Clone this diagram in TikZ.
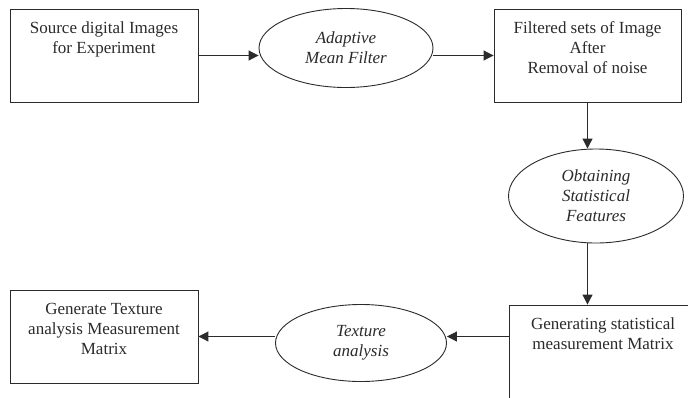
\documentclass[tikz,border=0pt]{standalone}
\usepackage{fontspec}
\setmainfont{Liberation Serif}
\usetikzlibrary{shapes.geometric,arrows.meta}
\definecolor{ink}{HTML}{2B2B2B}
\newcommand{\boxtext}[2]{\parbox[c][93pt][t]{#1}{\centering\rule{0pt}{24pt}#2}}
\tikzset{
  stage/.style={draw=ink, line width=0.9pt, inner sep=0pt, fill=white,
    text=ink, font=\fontsize{17}{20}\selectfont},
  oval/.style={draw=ink, line width=0.9pt, ellipse, inner sep=0pt, fill=white,
    text=ink, align=center, font=\fontsize{17}{20}\selectfont\itshape},
  flow/.style={draw=ink, line width=1pt, -{Triangle[length=10pt,width=10pt]}}
}
\begin{document}
\begin{tikzpicture}[x=1pt,y=-1pt]
\useasboundingbox (0,0) rectangle (688,397);
\clip (0,0) rectangle (688,397);
\fill[white] (0,0) rectangle (688,397);

% process boxes
\node[stage] (src) at (104,55.5) {\boxtext{188pt}{Source digital Images\\for Experiment}};
\node[stage] (filt) at (587.5,55.5) {\boxtext{187pt}{Filtered sets of Image\\After\\Removal of noise}};
\node[stage] (gen) at (603,351.5) {\boxtext{188pt}{Generating statistical\\measurement Matrix}};
\node[stage] (out) at (104,336.5) {\boxtext{188pt}{Generate Texture\\analysis Measurement\\Matrix}};

% operations
\node[oval, minimum width=174pt, minimum height=79pt] (amf) at (346,48) {Adaptive\\Mean Filter};
\node[oval, minimum width=175pt, minimum height=94pt] (feat) at (596,196) {Obtaining\\Statistical\\Features};
\node[oval, minimum width=171pt, minimum height=77pt] (tex) at (361,343) {Texture\\analysis};

% connectors
\draw[flow] (src.east) -- (src.east -| amf.west);
\draw[flow] (amf.east |- src.east) -- (filt.west);
\draw[flow] (filt.south) -- (filt.south |- feat.north);
\draw[flow] (feat.south -| filt.south) -- (gen.north -| filt.south);
\draw[flow] (gen.west |- out.east) -- (tex.east |- out.east);
\draw[flow] (tex.west |- out.east) -- (out.east);
\end{tikzpicture}
\end{document}
